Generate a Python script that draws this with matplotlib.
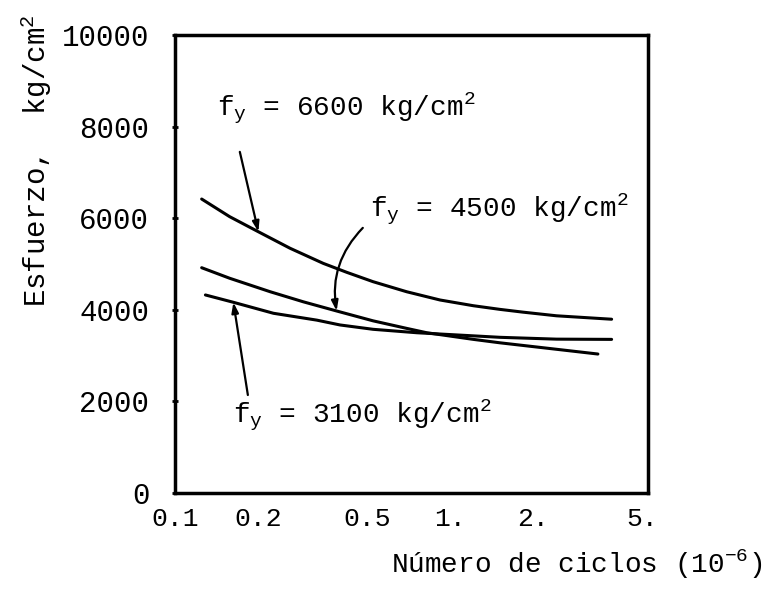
import numpy as np
import matplotlib.pyplot as plt

plt.rcParams['font.family'] = ['Liberation Mono', 'DejaVu Sans Mono']
plt.rcParams['mathtext.fontset'] = 'custom'
plt.rcParams['mathtext.rm'] = 'Liberation Mono'
plt.rcParams['mathtext.it'] = 'Liberation Mono'

# curves (ciclos x 10^-6, esfuerzo kg/cm2)
x_6600 = [0.125, 0.158, 0.201, 0.262, 0.346, 0.421, 0.525, 0.696, 0.920, 1.216, 1.52, 1.84, 2.44, 3.87]
y_6600 = [6420, 6035, 5705, 5345, 5015, 4820, 4615, 4395, 4215, 4090, 4010, 3950, 3870, 3795]
x_4500 = [0.125, 0.158, 0.222, 0.293, 0.387, 0.525, 0.696, 0.823, 1.216, 1.52, 2.125, 3.45]
y_4500 = [4920, 4690, 4395, 4175, 3975, 3760, 3595, 3500, 3355, 3280, 3180, 3035]
x_3100 = [0.129, 0.163, 0.228, 0.328, 0.398, 0.525, 0.757, 1.52, 2.44, 3.87]
y_3100 = [4325, 4165, 3925, 3775, 3670, 3575, 3500, 3400, 3360, 3355]

xticks = [0.1, 0.2, 0.5, 1, 2, 5]
xticklabels = ['0.1', '0.2', '0.5', '1.', '2.', '5.']
yticks = [0, 2000, 4000, 6000, 8000, 10000]

fig = plt.figure(figsize=(7.71, 5.97), dpi=100)
ax = fig.add_axes([0.227, 0.1742, 0.6135, 0.767])

for xs, ys in [(x_6600, y_6600), (x_4500, y_4500), (x_3100, y_3100)]:
    ax.plot(xs, ys, color='black', linewidth=2.2, solid_capstyle='round',
            solid_joinstyle='round')

ax.set_xscale('log')
ax.set_xlim(0.1, 5.25)
ax.set_ylim(0, 10000)
ax.set_xticks(xticks)
ax.set_xticklabels(xticklabels)
ax.xaxis.set_minor_locator(plt.NullLocator())
ax.set_yticks(yticks)
ax.tick_params(axis='x', length=0, pad=10, labelsize=19)
ax.tick_params(axis='y', direction='inout', length=5, width=2, pad=16, labelsize=21)
for s in ax.spines.values():
    s.set_linewidth(2.5)

ax.set_ylabel('Esfuerzo,  kg/cm$^2$', fontsize=21)
ax.yaxis.set_label_coords(-0.255, 0.725)
ax.set_xlabel('Número de ciclos (10$^{-6}$)', fontsize=20)
ax.xaxis.set_label_coords(0.85, -0.12)

arrow = dict(arrowstyle='-|>,head_length=0.6,head_width=0.2', color='black', lw=1.6,
             shrinkA=0, shrinkB=0)

ax.annotate(r'$\mathrm{f_y}$ = 6600 kg/cm$^2$', xy=(x_6600[2], y_6600[2]),
            xytext=(0.089, 0.825), textcoords='axes fraction', fontsize=20,
            va='baseline', ha='left')
ax.annotate('', xy=(x_6600[2], y_6600[2]), xytext=(0.137, 0.745),
            textcoords='axes fraction', arrowprops=arrow)

ax.annotate(r'$\mathrm{f_y}$ = 4500 kg/cm$^2$', xy=(x_4500[4], y_4500[4]),
            xytext=(0.412, 0.603), textcoords='axes fraction', fontsize=20,
            va='baseline', ha='left')
ax.annotate('', xy=(x_4500[4], y_4500[4]), xytext=(0.397, 0.579),
            textcoords='axes fraction',
            arrowprops=dict(arrow, connectionstyle='arc3,rad=0.25'))

ax.annotate(r'$\mathrm{f_y}$ = 3100 kg/cm$^2$', xy=(x_3100[1], y_3100[1]),
            xytext=(0.123, 0.153), textcoords='axes fraction', fontsize=20,
            va='baseline', ha='left')
ax.annotate('', xy=(x_3100[1], y_3100[1]), xytext=(0.154, 0.214),
            textcoords='axes fraction', arrowprops=arrow)

plt.savefig('out.png', dpi=100)
